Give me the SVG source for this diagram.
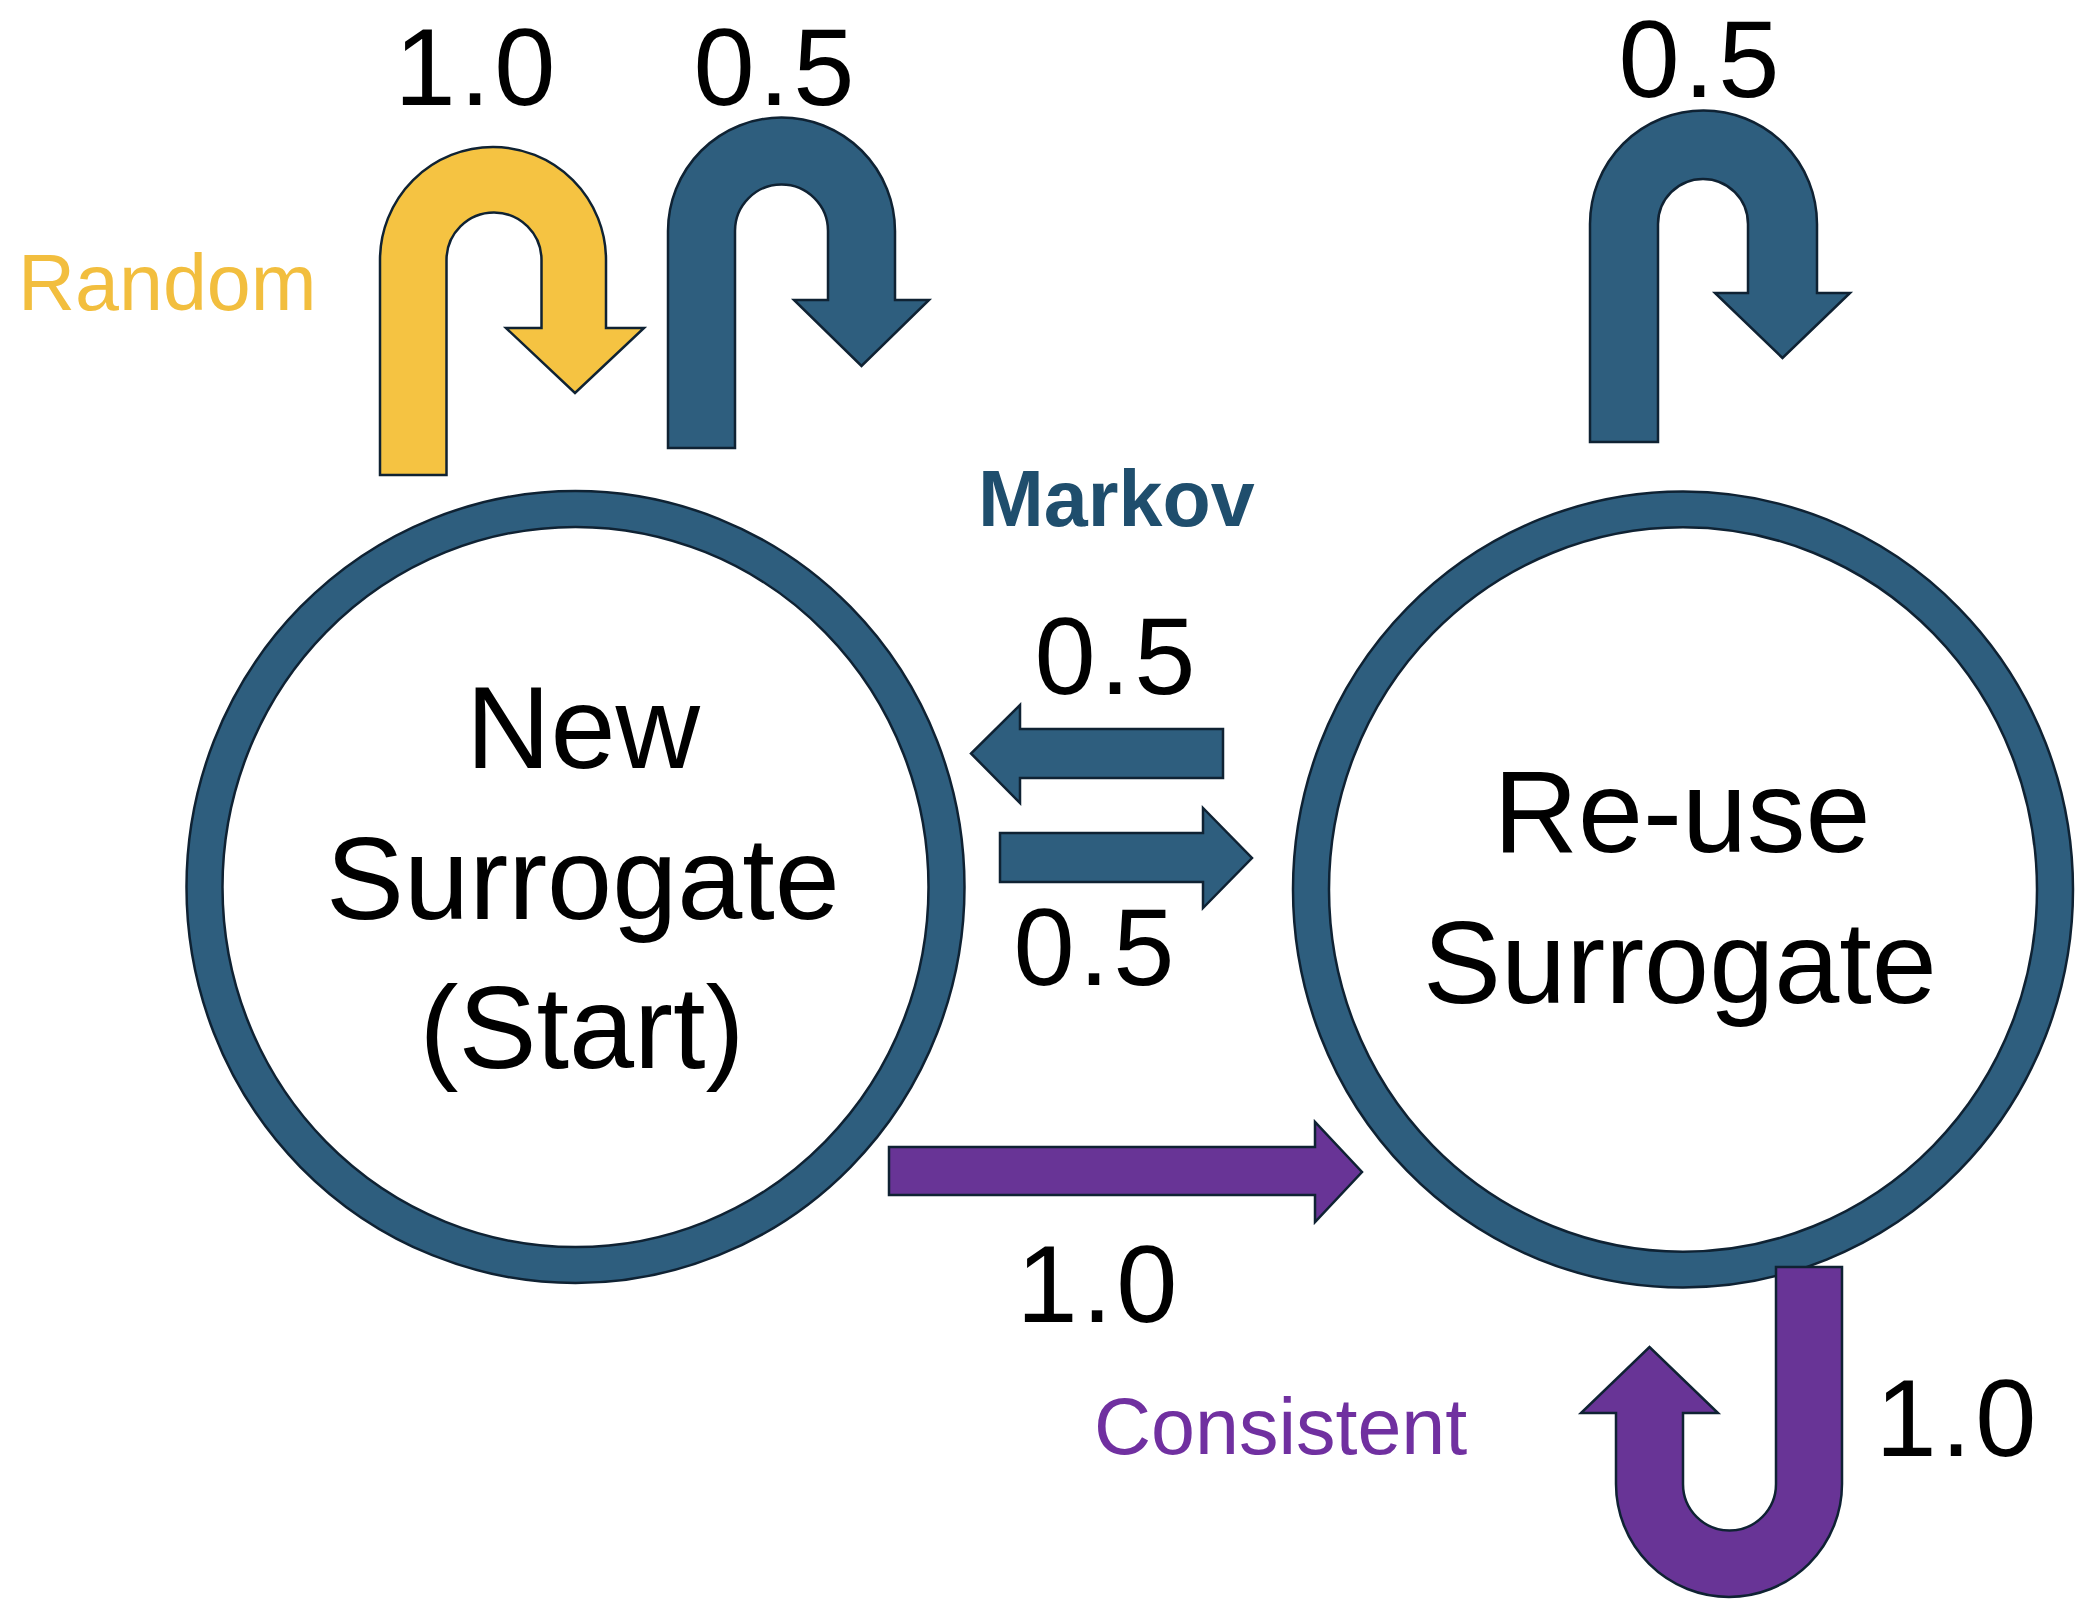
<svg xmlns="http://www.w3.org/2000/svg" width="2100" height="1612" viewBox="0 0 2100 1612">
<style>
  .ring { fill: #2E5E7E; fill-rule: evenodd; stroke: #0F2233; stroke-width: 2.5; }
  .blue { fill: #2E5E7E; stroke: #0F2233; stroke-width: 2.5; stroke-linejoin: miter; }
  .yellow { fill: #F5C342; stroke: #0F2233; stroke-width: 2.5; }
  .purple { fill: #683496; stroke: #0F2233; stroke-width: 2.5; }
  .node-text { font-family: "Liberation Sans", Arial, sans-serif; font-size: 117px; fill: #000; text-anchor: middle; }
  .num { font-family: "Liberation Sans", Arial, sans-serif; font-size: 110px; letter-spacing: 4px; fill: #000; text-anchor: middle; }
  .tag { font-family: "Liberation Sans", Arial, sans-serif; font-size: 79px; }
</style>
<rect width="2100" height="1612" fill="#FFFFFF"/>

<g id="node-new-surrogate">
  <path class="ring" d="M186.5,887 a389,396 0 1,0 778,0 a389,396 0 1,0 -778,0 Z M222.5,887 a353,360 0 1,0 706,0 a353,360 0 1,0 -706,0 Z"/>
  <text class="node-text" x="583" y="768">New</text>
  <text class="node-text" x="583" y="919">Surrogate</text>
  <text class="node-text" x="582" y="1068">(Start)</text>
</g>

<g id="node-reuse-surrogate">
  <path class="ring" d="M1293,889.5 a390,398 0 1,0 780,0 a390,398 0 1,0 -780,0 Z M1329,889.5 a354,362 0 1,0 708,0 a354,362 0 1,0 -708,0 Z"/>
  <text class="node-text" x="1682" y="852">Re-use</text>
  <text class="node-text" x="1680" y="1003">Surrogate</text>
</g>

<g id="connectors">
  <!-- Random self-loop on New Surrogate -->
  <path class="yellow" d="M380,475 L380,260 A113,113 0 0 1 606,260 L606,328 L644,328 L575,393 L506,328 L541.5,328 L541.5,260 A47.5,47.5 0 0 0 446.5,260 L446.5,475 Z"/>
  <!-- Markov self-loop on New Surrogate -->
  <path class="blue" d="M668,448 L668,231 A113.5,113.5 0 0 1 895,231 L895,300 L929,300 L861.5,366 L794,300 L828,300 L828,231 A46.5,46.5 0 0 0 735,231 L735,448 Z"/>
  <!-- Markov self-loop on Re-use Surrogate -->
  <path class="blue" d="M1590,442 L1590,224 A113.5,113.5 0 0 1 1817,224 L1817,293 L1850,293 L1782.5,358 L1715,293 L1748,293 L1748,224 A45,45 0 0 0 1658,224 L1658,442 Z"/>
  <!-- Markov Re-use -> New -->
  <path class="blue" d="M1223,729 L1020,729 L1020,705 L971,753.5 L1020,803 L1020,778 L1223,778 Z"/>
  <!-- Markov New -> Re-use -->
  <path class="blue" d="M1000,833 L1203,833 L1203,808 L1252,858 L1203,908 L1203,882 L1000,882 Z"/>
  <!-- Consistent New -> Re-use -->
  <path class="purple" d="M889,1147 L1315,1147 L1315,1122 L1362,1172 L1315,1222 L1315,1195 L889,1195 Z"/>
  <!-- Consistent self-loop on Re-use -->
  <path class="purple" d="M1842,1267 L1842,1484 A113,113 0 0 1 1616,1484 L1616,1413 L1581,1413 L1649.5,1347 L1718,1413 L1683,1413 L1683,1484 A46.5,46.5 0 0 0 1776,1484 L1776,1267 Z"/>

  <text class="num" x="477" y="105">1.0</text>
  <text class="num" x="776" y="105">0.5</text>
  <text class="num" x="1701" y="97">0.5</text>
  <text class="num" x="1117" y="694">0.5</text>
  <text class="num" x="1096" y="985">0.5</text>
  <text class="num" x="1099" y="1322">1.0</text>
  <text class="num" x="1958" y="1456">1.0</text>

  <text class="tag" x="18" y="310" fill="#F2BE3E">Random</text>
  <text class="tag" x="978" y="526" fill="#1F4E6D" font-weight="bold" font-size="76">Markov</text>
  <text class="tag" x="1094" y="1454" fill="#7030A0" font-size="84">Consistent</text>
</g>
</svg>
